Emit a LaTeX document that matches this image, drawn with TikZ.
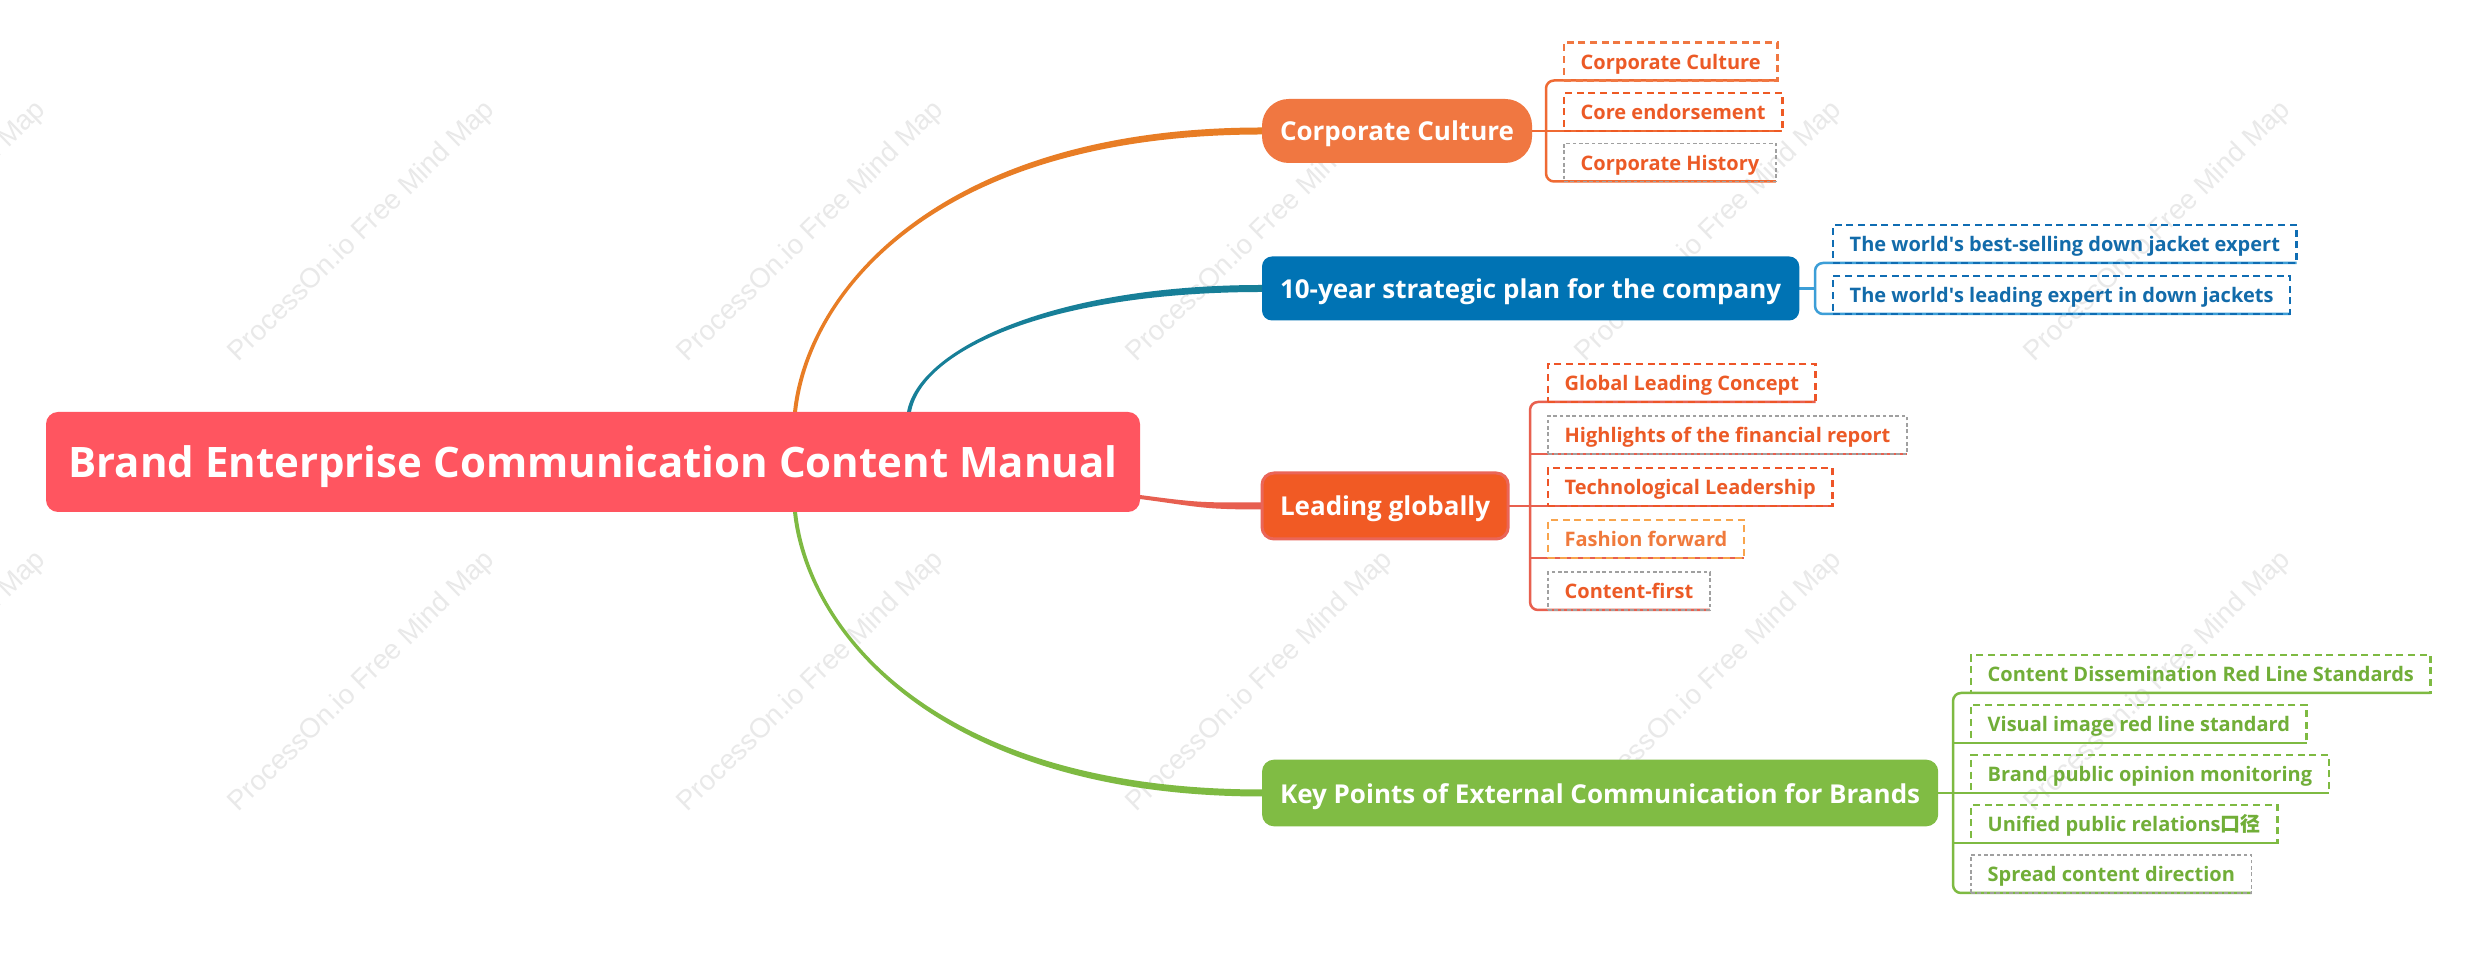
\documentclass[tikz,border=0pt]{standalone}
\usepackage{fontspec}
\setmainfont{Open Sans}
\newfontfamily\aposfont{Open Sans}[Ligatures=TeXOff]
\newcommand{\apo}{{\aposfont '}}
\newfontfamily\cjk{Noto Sans CJK SC}
\newfontfamily\wmfont{Liberation Sans}
\usetikzlibrary{calc}
\pgfdeclarelayer{wmlayer}
\pgfdeclarelayer{bglayer}
\pgfsetlayers{wmlayer,bglayer,main}
\definecolor{rootc}{HTML}{FF5560}
\definecolor{ccfill}{HTML}{F07741}
\definecolor{bluefill}{HTML}{0073B4}
\definecolor{lgfill}{HTML}{F15A24}
\definecolor{lgborder}{HTML}{EA6558}
\definecolor{grfill}{HTML}{80BC44}
\definecolor{orgcurve}{HTML}{E87D25}
\definecolor{tealcurve}{HTML}{177F98}
\definecolor{redcurve}{HTML}{E75F50}
\definecolor{grcurve}{HTML}{7EBA42}
\definecolor{ccline}{HTML}{EF6A33}
\definecolor{cct}{HTML}{EC5A26}
\definecolor{ccda}{HTML}{F07741}
\definecolor{ccdb}{HTML}{EE5A24}
\definecolor{bline}{HTML}{3C9ED7}
\definecolor{bld}{HTML}{0F6DB3}
\definecolor{blt}{HTML}{126BAA}
\definecolor{lline}{HTML}{E8604F}
\definecolor{lgd}{HTML}{EE5528}
\definecolor{lgt}{HTML}{EC5A26}
\definecolor{ffd}{HTML}{F8A44C}
\definecolor{fft}{HTML}{F07A3C}
\definecolor{gline}{HTML}{7EBA42}
\definecolor{gdash}{HTML}{7EBA42}
\definecolor{gtext}{HTML}{71AE38}
\definecolor{grayd}{HTML}{A0A0A0}
\definecolor{wmc}{HTML}{E9E9E9}
\begin{document}
\begin{tikzpicture}[x=0.3pt,y=-0.3pt,
  rootn/.style={fill=rootc, rounded corners=3.6pt, minimum width=328.2pt, minimum height=30pt,
    inner sep=0pt, outer sep=0pt, text=white, text height=1.0em, text depth=0.07em,
    font=\bfseries\fontsize{12.6pt}{14pt}\selectfont},
  branch/.style={anchor=west, inner xsep=5.4pt, inner ysep=0pt, outer sep=0pt,
    minimum height=19.2pt, text=white, text height=0.85em, text depth=0.25em,
    font=\bfseries\fontsize{7.8pt}{9pt}\selectfont},
  child/.style={anchor=south west, inner xsep=5pt, inner ysep=0pt, outer sep=0pt,
    minimum height=10.5pt, text height=0.8em, text depth=0.34em,
    font=\bfseries\fontsize{6pt}{7pt}\selectfont, line width=0.75pt,
    dash pattern=on 2.1pt off 1.4pt},
  graybox/.style={draw=grayd, line width=0.45pt, dash pattern=on 1.1pt off 0.8pt},
  wmark/.style={anchor=base west, rotate=44.3, inner sep=0pt, text=wmc,
    font=\wmfont\fontsize{8.3pt}{9pt}\selectfont},
  bracket/.style={line width=0.75pt, rounded corners=2.4pt}
]
\useasboundingbox (0,0) rectangle (2468,954);
\begin{pgfonlayer}{wmlayer}
\fill[white] (0,0) rectangle (2468,954);
\foreach \x in {-211,238,687,1136,1585,2034}
  \foreach \y in {363,813}
    \node[wmark] (wm\x\y) at (\x,\y) {ProcessOn.io Free Mind Map};
\end{pgfonlayer}

% root and main branches
\node[rootn] (root) at (593,462) {Brand Enterprise Communication Content Manual};
\node[branch, fill=ccfill, rounded corners=8pt] (cc) at (1262,131) {Corporate Culture};
\node[branch, fill=bluefill, rounded corners=3pt] (bp) at (1262,288.5) {10-year strategic plan for the company};
\node[branch, fill=lgfill, draw=lgborder, line width=0.9pt, rounded corners=3.6pt, minimum height=19.8pt] (lg) at (1262,506) {Leading globally};
\node[branch, fill=grfill, rounded corners=3.6pt, minimum height=20pt] (kp) at (1262,793) {Key Points of External Communication for Brands};

% children of Corporate Culture
\node[child, draw=ccda, text=cct] (c1) at (1564,80.5) {Corporate Culture};
\node[child, draw=ccdb, text=cct] (c2) at (1564,131) {Core endorsement};
\node[child, graybox, text=cct] (c3) at (1564,181.5) {Corporate History};
% children of strategic plan
\node[child, draw=bld, text=blt] (b1) at (1833,263) {The world\apo s best-selling down jacket expert};
\node[child, draw=bld, text=blt] (b2) at (1833,314) {The world\apo s leading expert in down jackets};
% children of Leading globally
\node[child, draw=lgd, text=lgt] (l1) at (1548,402) {Global Leading Concept};
\node[child, graybox, text=lgt] (l2) at (1548,454) {Highlights of the financial report};
\node[child, draw=lgd, text=lgt] (l3) at (1548,506) {Technological Leadership};
\node[child, draw=ffd, text=fft] (l4) at (1548,558) {Fashion forward};
\node[child, graybox, text=lgt] (l5) at (1548,610) {Content-first};
% children of Key Points
\node[child, draw=gdash, text=gtext] (g1) at (1971,693) {Content Dissemination Red Line Standards};
\node[child, draw=gdash, text=gtext] (g2) at (1971,743) {Visual image red line standard};
\node[child, draw=gdash, text=gtext] (g3) at (1971,793) {Brand public opinion monitoring};
\node[child, draw=gdash, text=gtext] (g4) at (1971,843) {Unified public relations{\cjk 口径}};
\node[child, graybox, text=gtext] (g5) at (1971,893) {Spread content direction};

\coordinate (o0) at ($(root.north west)+(749,0)$);
\coordinate (t0) at ($(root.north west)+(863,0)$);
\coordinate (r0) at ($(root.south east)+(0,-15)$);
\coordinate (v0) at ($(root.south west)+(749,0)$);
\coordinate (cbx) at ($(c1.south west)+(-18,0)$);
\coordinate (bbx) at ($(b1.south west)+(-18,0)$);
\coordinate (lbx) at ($(l1.south west)+(-18,0)$);
\coordinate (gbx) at ($(g1.south west)+(-18,0)$);

\begin{pgfonlayer}{bglayer}
% tapered main connectors
\fill[orgcurve] ($(o0)+(-2,0)$) .. controls +(13,-122) and +(-322,0) .. ($(cc.west)+(0,-3.5)$)
  -- ($(cc.west)+(0,3.5)$) .. controls +(-322,0) and +(13,-122) .. ($(o0)+(2,0)$) -- cycle;
\fill[tealcurve] ($(t0)+(-2,0)$) .. controls +(11,-62) and +(-212,0) .. ($(bp.west)+(0,-3.5)$)
  -- ($(bp.west)+(0,3.5)$) .. controls +(-212,0) and +(11,-62) .. ($(t0)+(2,0)$) -- cycle;
\fill[redcurve] ($(r0)+(0,-2)$) .. controls +(60,8) and +(-60,0) .. ($(lg.west)+(0,-3.5)$)
  -- ($(lg.west)+(0,3.5)$) .. controls +(-60,0) and +(60,8) .. ($(r0)+(0,2)$) -- cycle;
\fill[grcurve] ($(v0)+(-2,0)$) .. controls +(13,122) and +(-322,0) .. ($(kp.west)+(0,3.5)$)
  -- ($(kp.west)+(0,-3.5)$) .. controls +(-322,0) and +(13,122) .. ($(v0)+(2,0)$) -- cycle;

% brackets
\draw[bracket, ccline] (c1.south east) -- (cbx |- c1.south) -- (cbx |- c3.south) -- (c3.south east);
\draw[bracket, ccline] (cc.east) -- (c2.south east);

\draw[bracket, bline] (b1.south east) -- (bbx |- b1.south) -- (bbx |- b2.south) -- (b2.south east);
\draw[bracket, bline] (bp.east) -- (bbx |- bp.east);

\draw[bracket, lline] (l1.south east) -- (lbx |- l1.south) -- (lbx |- l5.south) -- (l5.south east);
\draw[bracket, lline] (lbx |- l2.south) -- (l2.south east);
\draw[bracket, lline] (lg.east) -- (l3.south east);
\draw[bracket, lline] (lbx |- l4.south) -- (l4.south east);

\draw[bracket, gline] (g1.south east) -- (gbx |- g1.south) -- (gbx |- g5.south) -- (g5.south east);
\draw[bracket, gline] (gbx |- g2.south) -- (g2.south east);
\draw[bracket, gline] (kp.east) -- (g3.south east);
\draw[bracket, gline] (gbx |- g4.south) -- (g4.south east);
\end{pgfonlayer}
\end{tikzpicture}
\end{document}
